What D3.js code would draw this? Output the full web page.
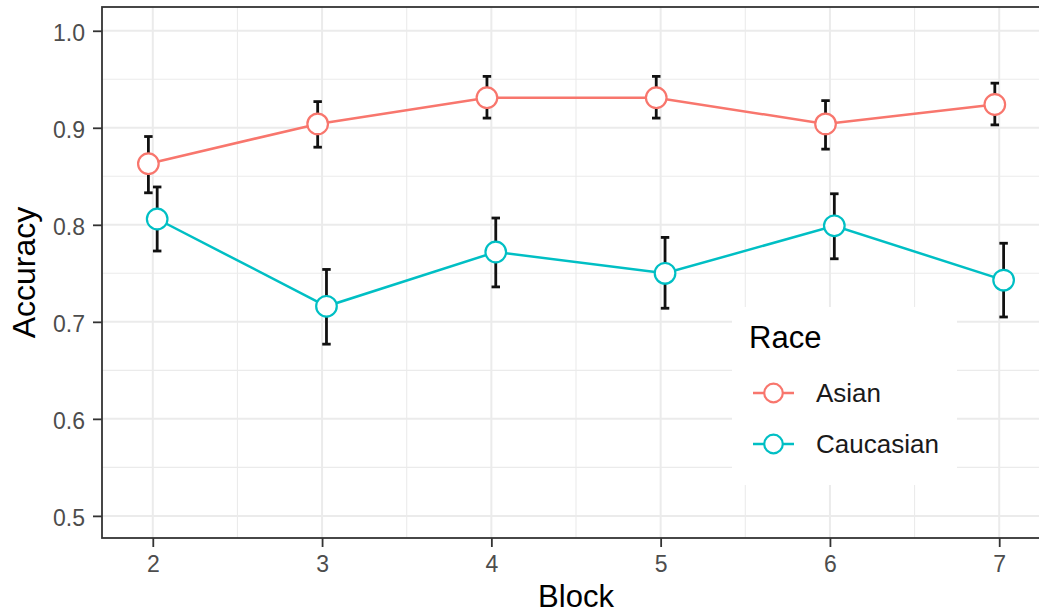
<!DOCTYPE html>
<html>
<head>
<meta charset="utf-8">
<script src="https://cdn.jsdelivr.net/npm/d3@7"></script>
<style>
  body { margin: 0; background: #fff; }
  svg { display: block; font-family: "Liberation Sans", Arial, Helvetica, sans-serif; }
</style>
</head>
<body>
<div id="chart"></div>
<script>
// DATA
var blocks = [2, 3, 4, 5, 6, 7];
var races = ["Asian", "Caucasian"];

var asianMean = [0.863, 0.904, 0.931, 0.931, 0.904, 0.924];
var asianLow  = [0.833, 0.880, 0.910, 0.910, 0.878, 0.903];
var asianHigh = [0.891, 0.927, 0.953, 0.953, 0.928, 0.946];

var caucMean = [0.806, 0.716, 0.772, 0.750, 0.799, 0.743];
var caucLow  = [0.773, 0.677, 0.736, 0.714, 0.765, 0.705];
var caucHigh = [0.839, 0.754, 0.807, 0.787, 0.832, 0.781];

var yTicks = [0.5, 0.6, 0.7, 0.8, 0.9, 1.0];
var yMinor = [0.55, 0.65, 0.75, 0.85, 0.95];
var xMinor = [2.5, 3.5, 4.5, 5.5, 6.5];

var colors = { Asian: "#F8766D", Caucasian: "#00BFC4" };

var width = 1039, height = 615;
// panel runs off the right side of the picture
var panel = { left: 102, top: 7, right: 1050, bottom: 538 };

var svg = d3.select("#chart").append("svg")
  .attr("width", width)
  .attr("height", height);

var x = d3.scaleLinear().domain([1.7, 7.3]).range([panel.left, panel.right]);
var y = d3.scaleLinear().domain([0.4772, 1.0245]).range([panel.bottom, panel.top]);

var dodge = 0.026;

function makeSeries(name, mean, lo, hi, shift) {
  return blocks.map(function(b, i) {
    return { race: name, block: b + shift, mean: mean[i], lo: lo[i], hi: hi[i] };
  });
}

var series = [
  { name: "Asian", values: makeSeries("Asian", asianMean, asianLow, asianHigh, -dodge) },
  { name: "Caucasian", values: makeSeries("Caucasian", caucMean, caucLow, caucHigh, dodge) }
];

//////////////////////////////////////////
// GRID
//////////////////////////////////////////
var grid = svg.append("g");

grid.selectAll(".minor-y").data(yMinor).enter().append("line")
  .attr("x1", panel.left).attr("x2", panel.right)
  .attr("y1", function(d) { return y(d); }).attr("y2", function(d) { return y(d); })
  .attr("stroke", "#EBEBEB").attr("stroke-width", 1.1);

grid.selectAll(".minor-x").data(xMinor).enter().append("line")
  .attr("y1", panel.top).attr("y2", panel.bottom)
  .attr("x1", function(d) { return x(d); }).attr("x2", function(d) { return x(d); })
  .attr("stroke", "#EBEBEB").attr("stroke-width", 1.1);

grid.selectAll(".major-y").data(yTicks).enter().append("line")
  .attr("x1", panel.left).attr("x2", panel.right)
  .attr("y1", function(d) { return y(d); }).attr("y2", function(d) { return y(d); })
  .attr("stroke", "#EBEBEB").attr("stroke-width", 2);

grid.selectAll(".major-x").data(blocks).enter().append("line")
  .attr("y1", panel.top).attr("y2", panel.bottom)
  .attr("x1", function(d) { return x(d); }).attr("x2", function(d) { return x(d); })
  .attr("stroke", "#EBEBEB").attr("stroke-width", 2);

//////////////////////////////////////////
// LINES, ERROR BARS, POINTS
//////////////////////////////////////////
var line = d3.line()
  .x(function(d) { return x(d.block); })
  .y(function(d) { return y(d.mean); });

svg.selectAll(".series-line").data(series).enter().append("path")
  .attr("class", "series-line")
  .attr("d", function(d) { return line(d.values); })
  .attr("fill", "none")
  .attr("stroke", function(d) { return colors[d.name]; })
  .attr("stroke-width", 2.5);

var capHalf = 0.025;
var allPoints = series[0].values.concat(series[1].values);

var err = svg.selectAll(".err").data(allPoints).enter().append("g")
  .attr("stroke", "#111").attr("stroke-width", 2.8);

err.append("line")
  .attr("x1", function(d) { return x(d.block); }).attr("x2", function(d) { return x(d.block); })
  .attr("y1", function(d) { return y(d.lo); }).attr("y2", function(d) { return y(d.hi); });
err.append("line")
  .attr("x1", function(d) { return x(d.block - capHalf); }).attr("x2", function(d) { return x(d.block + capHalf); })
  .attr("y1", function(d) { return y(d.hi); }).attr("y2", function(d) { return y(d.hi); });
err.append("line")
  .attr("x1", function(d) { return x(d.block - capHalf); }).attr("x2", function(d) { return x(d.block + capHalf); })
  .attr("y1", function(d) { return y(d.lo); }).attr("y2", function(d) { return y(d.lo); });

svg.selectAll(".pt").data(allPoints).enter().append("circle")
  .attr("cx", function(d) { return x(d.block); })
  .attr("cy", function(d) { return y(d.mean); })
  .attr("r", 10.3)
  .attr("fill", "white")
  .attr("stroke", function(d) { return colors[d.race]; })
  .attr("stroke-width", 2.2);

//////////////////////////////////////////
// PANEL BORDER + AXES
//////////////////////////////////////////
svg.append("rect")
  .attr("x", panel.left).attr("y", panel.top)
  .attr("width", panel.right - panel.left).attr("height", panel.bottom - panel.top)
  .attr("fill", "none").attr("stroke", "#333").attr("stroke-width", 1.8);

var yAxis = svg.append("g")
  .attr("transform", "translate(" + panel.left + ",0)")
  .call(d3.axisLeft(y).tickValues(yTicks).tickFormat(d3.format(".1f")).tickSize(9).tickPadding(8));

var xAxis = svg.append("g")
  .attr("transform", "translate(0," + panel.bottom + ")")
  .call(d3.axisBottom(x).tickValues(blocks).tickFormat(d3.format("d")).tickSize(9).tickPadding(9));

[yAxis, xAxis].forEach(function(ax) {
  ax.select(".domain").remove();
  ax.selectAll(".tick line").attr("stroke", "#333").attr("stroke-width", 1.8);
  ax.selectAll(".tick text")
    .attr("fill", "#4D4D4D")
    .style("font-size", "23px")
    .style("font-family", "'Liberation Sans', Arial, Helvetica, sans-serif");
});
yAxis.selectAll(".tick text").attr("dy", "0.42em");

// axis titles
svg.append("text")
  .attr("x", (panel.left + panel.right) / 2)
  .attr("y", 607)
  .attr("text-anchor", "middle")
  .style("font-size", "31px")
  .attr("fill", "#000")
  .text("Block");

svg.append("text")
  .attr("transform", "translate(35," + (panel.top + panel.bottom) / 2 + ") rotate(-90)")
  .attr("text-anchor", "middle")
  .style("font-size", "32px")
  .attr("fill", "#000")
  .text("Accuracy");

//////////////////////////////////////////
// LEGEND
//////////////////////////////////////////
var legend = svg.append("g");

legend.append("rect")
  .attr("x", 732).attr("y", 307)
  .attr("width", 225).attr("height", 178)
  .attr("fill", "white");

legend.append("text")
  .attr("x", 749).attr("y", 348)
  .style("font-size", "31px")
  .attr("fill", "#000")
  .text("Race");

var keys = legend.selectAll(".key").data(races).enter().append("g")
  .attr("transform", function(d, i) { return "translate(0," + (393 + i * 51) + ")"; });

keys.append("line")
  .attr("x1", 753).attr("x2", 794)
  .attr("y1", 0).attr("y2", 0)
  .attr("stroke", function(d) { return colors[d]; })
  .attr("stroke-width", 2.4);

keys.append("circle")
  .attr("cx", 773.5).attr("cy", 0).attr("r", 9.3)
  .attr("fill", "white")
  .attr("stroke", function(d) { return colors[d]; })
  .attr("stroke-width", 2.2);

keys.append("text")
  .attr("x", 816).attr("y", 9)
  .style("font-size", "26px")
  .attr("fill", "#1a1a1a")
  .text(function(d) { return d; });
</script>
</body>
</html>
